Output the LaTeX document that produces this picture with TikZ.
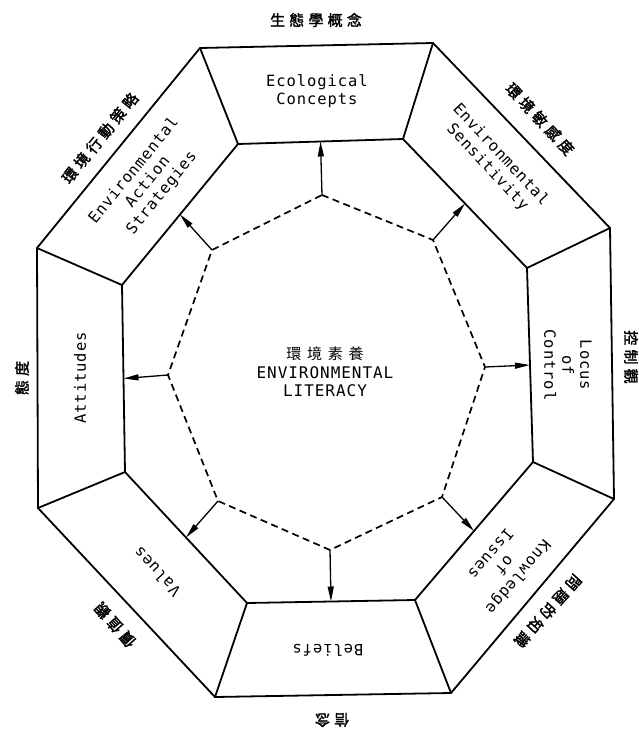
\documentclass[tikz,border=0pt]{standalone}
\usepackage{fontspec}
\setmainfont{DejaVu Sans Mono}[LetterSpace=6]
\newfontfamily\cjk{Noto Sans CJK TC}[LetterSpace=28, FakeBold=2]
\newfontfamily\cjkc{Noto Sans CJK TC}[LetterSpace=38]
\usetikzlibrary{arrows.meta,calc}
\begin{document}
\begin{tikzpicture}[x=1pt,y=-1pt,
  edge/.style={line width=1.8pt, line join=miter},
  dsh/.style={line width=1.7pt, dash pattern=on 7pt off 4.5pt},
  arr/.style={line width=1.3pt, -{Triangle[length=15pt,width=6pt]}},
  lab/.style={font=\fontsize{15.5}{18}\selectfont, align=center, inner sep=0pt},
  zh/.style={font=\cjk\fontsize{15}{15}\selectfont, inner sep=0pt}]
\useasboundingbox (0,0) rectangle (639,731);
% outer octagon
\coordinate (O1) at (200,48);
\coordinate (O2) at (433,43);
\coordinate (O3) at (610,228);
\coordinate (O4) at (614,499);
\coordinate (O5) at (451,693);
\coordinate (O6) at (215,697);
\coordinate (O7) at (38,508);
\coordinate (O8) at (37,248);
% inner octagon
\coordinate (I1) at (238,144);
\coordinate (I2) at (403,139);
\coordinate (I3) at (527,268);
\coordinate (I4) at (533,462);
\coordinate (I5) at (415,600);
\coordinate (I6) at (247,603);
\coordinate (I7) at (125,472);
\coordinate (I8) at (122,285);
% dashed octagon
\coordinate (D1) at (322,195);
\coordinate (D2) at (433,240);
\coordinate (D3) at (485,367);
\coordinate (D4) at (442,497);
\coordinate (D5) at (330,550);
\coordinate (D6) at (218,501);
\coordinate (D7) at (168,375);
\coordinate (D8) at (212,250);

\draw[edge] (O1)--(O2)--(O3)--(O4)--(O5)--(O6)--(O7)--(O8)--cycle;
\draw[edge] (I1)--(I2)--(I3)--(I4)--(I5)--(I6)--(I7)--(I8)--cycle;
\foreach \i in {1,...,8} \draw[edge] (O\i)--(I\i);
\draw[dsh] (D1)--(D2)--(D3)--(D4)--(D5)--(D6)--(D7)--(D8)--cycle;

\draw[arr] (D1) -- ($(I1)!0.5!(I2)$);
\draw[arr] (D2) -- ($(I2)!0.5!(I3)$);
\draw[arr] (D3) -- ($(I3)!0.5!(I4)$);
\draw[arr] (D4) -- ($(I4)!0.5!(I5)$);
\draw[arr] (D5) -- ($(I5)!0.5!(I6)$);
\draw[arr] (D6) -- ($(I6)!0.5!(I7)$);
\draw[arr] (D7) -- ($(I7)!0.5!(I8)$);
\draw[arr] (D8) -- ($(I8)!0.5!(I1)$);

% segment labels
\node[lab] (eco) at (317,91) {Ecological\\Concepts};
\node[lab, rotate=-47] (sens) at (494,161) {Environmental\\Sensitivity};
\node[lab, rotate=-90] (loc) at (568,365) {Locus\\of\\Control};
\node[lab, rotate=-130] (know) at (505,566) {Knowledge\\of\\Issues};
\node[lab, rotate=180] (bel) at (328,650) {Beliefs};
\node[lab, rotate=133] (val) at (157,572) {Values};
\node[lab, rotate=90] (att) at (80,378) {Attitudes};
\node[lab, rotate=51] (act) at (148,182) {Environmental\\Action\\Strategies};

% centre
\node[align=center, inner sep=0pt, font=\fontsize{16}{18.5}\selectfont] (lit) at (325,372)
  {{\cjkc\fontsize{15}{15}\selectfont 環境素養}\\ENVIRONMENTAL\\LITERACY};

% outer chinese labels
\node[zh] (z1) at (316,20) {生態學概念};
\node[zh, rotate=-47] (z2) at (540,119) {環境敏感度};
\node[zh, rotate=-90] (z3) at (631,357) {控制觀};
\node[zh, rotate=-132] (z4) at (548,611) {問題的知識};
\node[zh, rotate=180] (z5) at (332,720) {信念};
\node[zh, rotate=131] (z6) at (115,625) {價值觀};
\node[zh, rotate=90] (z7) at (22,378) {態度};
\node[zh, rotate=51] (z8) at (100,138) {環境行動策略};
\end{tikzpicture}
\end{document}
